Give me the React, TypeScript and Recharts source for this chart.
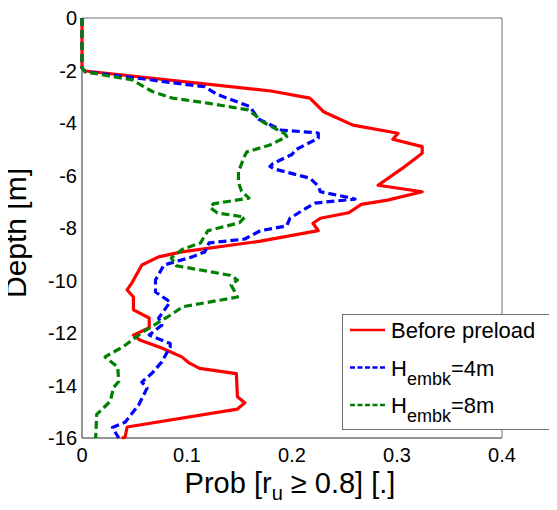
import React from 'react';
import { ScatterChart, Scatter, XAxis, YAxis, Legend } from 'recharts';

// depth [m], probability
const beforePreload: [number, number][] = [
  [0, 0], [-1.9, 0], [-2.02, 0.003], [-2.78, 0.18], [-3.05, 0.217], [-3.57, 0.23], [-4.08, 0.258],
  [-4.39, 0.301], [-4.62, 0.296], [-4.9, 0.324], [-5.15, 0.324], [-5.73, 0.305], [-6.37, 0.282],
  [-6.62, 0.324], [-6.94, 0.291], [-7.1, 0.266], [-7.42, 0.254], [-7.63, 0.227], [-7.82, 0.22],
  [-8.1, 0.225], [-8.5, 0.17], [-8.91, 0.095], [-9.1, 0.073], [-9.41, 0.057], [-10.06, 0.048],
  [-10.36, 0.043], [-10.63, 0.049], [-11.12, 0.049], [-11.43, 0.064], [-11.8, 0.064], [-12.08, 0.049],
  [-12.27, 0.055], [-12.57, 0.076], [-12.91, 0.095], [-13.14, 0.102], [-13.35, 0.112], [-13.55, 0.147],
  [-14.43, 0.148], [-14.66, 0.155], [-14.9, 0.148], [-15.58, 0.043], [-15.97, 0.041], [-16, 0.038],
];

const embk4m: [number, number][] = [
  [0, 0], [-1.9, 0], [-2.05, 0.003], [-2.27, 0.048], [-2.62, 0.117], [-2.9, 0.128], [-3.38, 0.16],
  [-3.85, 0.168], [-4.27, 0.19], [-4.38, 0.225], [-4.58, 0.225], [-5.03, 0.203], [-5.2, 0.2],
  [-5.54, 0.182], [-5.65, 0.179], [-5.75, 0.183], [-6.1, 0.217], [-6.4, 0.225], [-6.62, 0.227],
  [-6.82, 0.252], [-6.9, 0.26], [-7.05, 0.222], [-7.28, 0.212], [-7.63, 0.198], [-7.92, 0.195],
  [-8.1, 0.17], [-8.42, 0.155], [-8.57, 0.121], [-8.91, 0.117], [-9.1, 0.105], [-9.41, 0.078],
  [-9.98, 0.07], [-10.44, 0.07], [-10.82, 0.084], [-11.43, 0.073], [-11.7, 0.076], [-12.08, 0.064],
  [-12.4, 0.084], [-12.53, 0.084], [-13.1, 0.076], [-13.52, 0.067], [-13.87, 0.057], [-14.1, 0.062],
  [-14.74, 0.054], [-15.4, 0.041], [-15.6, 0.029], [-16, 0.035],
];

const embk8m: [number, number][] = [
  [0, 0], [-1.9, 0], [-2.05, 0.003], [-2.36, 0.048], [-2.8, 0.067], [-3.05, 0.086], [-3.25, 0.121],
  [-3.5, 0.158], [-3.7, 0.165], [-3.96, 0.172], [-4.4, 0.193], [-4.52, 0.195], [-4.84, 0.179],
  [-5.1, 0.157], [-5.25, 0.155], [-5.85, 0.149], [-6.27, 0.149], [-6.6, 0.152], [-6.86, 0.159],
  [-7.08, 0.125], [-7.22, 0.122], [-7.43, 0.129], [-7.58, 0.155], [-7.8, 0.15], [-8.1, 0.12],
  [-8.42, 0.115], [-8.57, 0.113], [-8.8, 0.096], [-9.14, 0.085], [-9.44, 0.09], [-9.8, 0.141],
  [-9.98, 0.148], [-10.17, 0.142], [-10.63, 0.148], [-11.0, 0.096], [-11.3, 0.085], [-11.96, 0.058],
  [-12.5, 0.04], [-12.91, 0.022], [-13.3, 0.034], [-13.85, 0.035], [-14.08, 0.03], [-14.6, 0.027],
  [-15.1, 0.014], [-16, 0.013],
];

const xTicks = [0, 0.1, 0.2, 0.3, 0.4];
const yTicks = [0, -2, -4, -6, -8, -10, -12, -14, -16];

const font = '"Liberation Sans", Arial, sans-serif';
const axisGrey = '#707070';

const toPoints = (rows: [number, number][]) => rows.map(([d, p]) => ({ d, p }));

const series = [
  { key: 'before', name: 'Before preload', rows: beforePreload, color: '#ff0000', dash: undefined as string | undefined },
  { key: 'h4', name: 'H', sub: 'embk', tail: '=4m', rows: embk4m, color: '#0000ff', dash: '8 4' },
  { key: 'h8', name: 'H', sub: 'embk', tail: '=8m', rows: embk8m, color: '#008000', dash: '8 4' },
];

const noDot = () => <g />;

const LegendBox = () => (
  <svg width={230} height={117} style={{ display: 'block' }}>
    <rect x={0.5} y={0.5} width={228} height={115} fill="#fff" stroke={axisGrey} strokeWidth={1} />
    {series.map((s, i) => {
      const ly = 16 + i * 37.5;
      return (
        <g key={s.key}>
          <line x1={8} x2={43} y1={ly} y2={ly} stroke={s.color} strokeWidth={2.5} strokeDasharray={s.dash ? '5 2.5' : undefined} />
          <text x={49} y={ly + 8} fontSize={22} fontFamily={font} fill="#000">
            {s.name}
            {s.sub && <tspan fontSize={18} dy={9}>{s.sub}</tspan>}
            {s.tail && <tspan dy={-9}>{s.tail}</tspan>}
          </text>
        </g>
      );
    })}
  </svg>
);

export default function App() {
  return (
    <div style={{ margin: -8, width: 557, height: 510, overflow: 'hidden', background: '#fff', position: 'relative' }}>
      <ScatterChart width={557} height={510} margin={{ top: 18, right: 55, bottom: 0, left: 0 }}>
        <XAxis
          type="number"
          dataKey="p"
          domain={[0, 0.4]}
          ticks={xTicks}
          height={72}
          tickLine={false}
          tickSize={0}
          tickMargin={10}
          axisLine={{ stroke: axisGrey }}
          tick={{ fontSize: 20, fill: '#000', fontFamily: font }}
          label={() => (
            <text x={290} y={493} textAnchor="middle" fontSize={29} fontFamily={font} fill="#000">
              Prob [r<tspan fontSize={20} dy={7}>u</tspan>
              <tspan dy={-7}> ≥ 0.8] [.]</tspan>
            </text>
          )}
        />
        <YAxis
          type="number"
          dataKey="d"
          domain={[-16, 0]}
          ticks={yTicks}
          width={82}
          tickLine={false}
          tickSize={0}
          tickMargin={5}
          axisLine={{ stroke: axisGrey }}
          tick={{ fontSize: 20, fill: '#000', fontFamily: font }}
          label={() => (
            <text x={26} y={233} transform="rotate(-90 26 233)" textAnchor="middle" fontSize={30} fontFamily={font} fill="#000">
              Depth [m]
            </text>
          )}
        />
        <XAxis xAxisId="bt" type="number" domain={[0, 0.4]} ticks={xTicks} allowDataOverflow mirror tick={false} tickSize={5} stroke={axisGrey} />
        <XAxis xAxisId="top" orientation="top" type="number" domain={[0, 0.4]} ticks={xTicks} allowDataOverflow mirror tick={false} tickSize={5} stroke={axisGrey} />
        <YAxis yAxisId="lt" type="number" domain={[-16, 0]} ticks={yTicks} allowDataOverflow mirror tick={false} tickSize={5} stroke={axisGrey} />
        <YAxis yAxisId="rt" orientation="right" type="number" domain={[-16, 0]} ticks={yTicks} allowDataOverflow mirror tick={false} tickSize={5} stroke={axisGrey} />
        {series.map((s) => (
          <Scatter
            key={s.key}
            name={s.key}
            data={toPoints(s.rows)}
            fill={s.color}
            line={{ stroke: s.color, strokeWidth: 3.2, strokeDasharray: s.dash, strokeLinejoin: 'round' }}
            lineType="joint"
            shape={noDot}
            legendType="none"
            isAnimationActive={false}
          />
        ))}
        <Legend
          layout="vertical"
          align="center"
          verticalAlign="middle"
          content={() => <LegendBox />}
          wrapperStyle={{ left: 342, top: 314, width: 230, height: 117 }}
        />
      </ScatterChart>
    </div>
  );
}
